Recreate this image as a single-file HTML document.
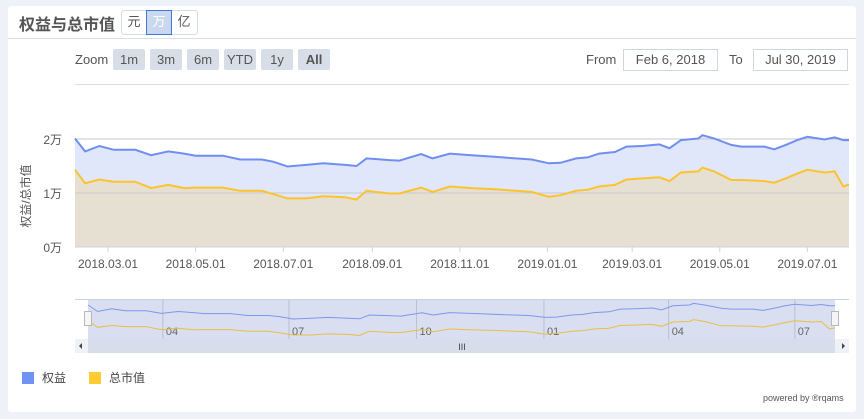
<!DOCTYPE html>
<html><head><meta charset="utf-8">
<style>
body{margin:0;width:864px;height:419px;background:#eef1f8;font-family:"Liberation Sans","Noto Sans CJK SC",sans-serif;position:relative;overflow:hidden}
.card{position:absolute;left:8px;top:6px;width:848px;height:406px;background:#fff;border-radius:3px}
.abs{position:absolute}
.btn{position:absolute;top:49px;height:21px;background:#d8dee8;border-radius:2px;font-size:13px;color:#555;text-align:center;line-height:21px}
.inp{position:absolute;top:49px;height:20px;border:1px solid #cfd6e2;font-size:13px;color:#555;text-align:center;line-height:20px}
</style></head><body>
<div class="card"></div>
<div class="abs" style="left:19px;top:11px;font-size:16px;font-weight:bold;color:#555">权益与总市值</div>
<div class="abs" style="left:121px;top:10px;width:75px;height:23px;border:1px solid #d4dbe6;border-radius:3px"></div>
<div class="abs" style="left:122px;top:11px;width:24px;height:23px;font-size:13px;color:#555;text-align:center;line-height:22px">元</div>
<div class="abs" style="left:146px;top:10px;width:24px;height:23px;font-size:13px;color:#fff;background:#c9d8ee;border:1px solid #3f78d8;text-align:center;line-height:22px">万</div>
<div class="abs" style="left:172px;top:11px;width:24px;height:23px;font-size:13px;color:#555;text-align:center;line-height:22px">亿</div>
<div class="abs" style="left:8px;top:38px;width:848px;height:1px;background:#d9dee8"></div>
<div class="abs" style="left:75px;top:52px;font-size:13px;color:#555">Zoom</div>
<div class="btn" style="left:113px;width:32px">1m</div>
<div class="btn" style="left:150px;width:32px">3m</div>
<div class="btn" style="left:187px;width:32px">6m</div>
<div class="btn" style="left:224px;width:32px">YTD</div>
<div class="btn" style="left:261px;width:32px">1y</div>
<div class="btn" style="left:298px;width:32px;font-weight:bold">All</div>
<div class="abs" style="left:586px;top:52px;font-size:13px;color:#555">From</div>
<div class="inp" style="left:623px;width:93px">Feb 6, 2018</div>
<div class="abs" style="left:729px;top:52px;font-size:13px;color:#555">To</div>
<div class="inp" style="left:753px;width:93px">Jul 30, 2019</div>
<div class="abs" style="left:75px;top:84px;width:774px;height:1px;background:#d9dee8"></div>

<svg id="chart" class="abs" style="left:0;top:0" width="864" height="419"></svg>

<div class="abs" style="left:22px;top:369px;font-size:12px;color:#444"><span style="display:inline-block;width:12px;height:12px;background:#6f93f2;vertical-align:-2px;margin-right:8px"></span>权益</div>
<div class="abs" style="left:89px;top:369px;font-size:12px;color:#444"><span style="display:inline-block;width:12px;height:12px;background:#ffcc33;vertical-align:-2px;margin-right:8px"></span>总市值</div>
<div class="abs" style="left:763px;top:393px;font-size:9px;color:#555">powered by ®rqams</div>

<script>
const days=[0,7,17,27,42,53,65,76,84,103,115,130,138,148,161,173,188,196,203,219,226,241,249,261,276,292,307,318,330,338,349,357,365,376,384,395,407,414,422,434,437,445,457,464,480,487,495,503,510,522,529,535,539];
const equity=[2.01,1.77,1.87,1.80,1.80,1.70,1.77,1.73,1.69,1.69,1.62,1.62,1.58,1.49,1.52,1.55,1.52,1.50,1.64,1.61,1.60,1.72,1.64,1.73,1.70,1.67,1.64,1.62,1.55,1.56,1.64,1.66,1.73,1.76,1.86,1.87,1.90,1.83,1.98,2.01,2.07,2.01,1.89,1.86,1.86,1.81,1.89,1.98,2.04,1.99,2.03,1.98,1.98];
const marketValue=[1.43,1.18,1.25,1.21,1.21,1.09,1.15,1.09,1.10,1.10,1.04,1.04,0.98,0.90,0.90,0.94,0.92,0.88,1.04,0.99,0.99,1.10,1.02,1.12,1.09,1.07,1.04,1.02,0.93,0.96,1.04,1.06,1.12,1.15,1.25,1.27,1.29,1.22,1.38,1.40,1.47,1.40,1.24,1.24,1.22,1.19,1.27,1.36,1.43,1.38,1.40,1.12,1.16];
const yTicks=[0,1,2];
const yTickLabels=["0万","1万","2万"];
const xTicks=["2018-03-01","2018-05-01","2018-07-01","2018-09-01","2018-11-01","2019-01-01","2019-03-01","2019-05-01","2019-07-01"];
const navTicks=["2018-04-01","2018-07-01","2018-10-01","2019-01-01","2019-04-01","2019-07-01"];
const startDate=Date.UTC(2018,1,6), totalDays=539;

const NS="http://www.w3.org/2000/svg";
const svg=document.getElementById('chart');
function mk(t,a,parent){const e=document.createElementNS(NS,t);for(const k in a)e.setAttribute(k,a[k]);(parent||svg).appendChild(e);return e;}
function dayOf(s){const p=s.split('-');return (Date.UTC(+p[0],+p[1]-1,+p[2])-startDate)/864e5;}
const X0=75,X1=849;
const x=d=>X0+d/totalDays*(X1-X0);
const y=v=>247-v*54;
const nx=d=>88+d/totalDays*(835-88);
const ny=v=>305+(2.01-v)*27;

// main plot
let e;
e=mk('rect',{x:X0,y:135,width:X1-X0,height:112,fill:'#fff'});

function area(vals,fx,fy,base){let d='M'+fx(days[0])+','+base;days.forEach((dd,i)=>d+='L'+fx(dd).toFixed(1)+','+fy(vals[i]).toFixed(1));return d+'L'+fx(days[days.length-1])+','+base+'Z';}
function line(vals,fx,fy){return days.map((dd,i)=>(i?'L':'M')+fx(dd).toFixed(1)+','+fy(vals[i]).toFixed(1)).join('');}
e=mk('path',{d:area(equity,x,y,247),fill:'#e1e7fa'});

e=mk('path',{d:area(marketValue,x,y,247),fill:'#e6e0d2'});

yTicks.forEach((t,i)=>{
  e=mk('line',{x1:X0,x2:X1,y1:y(t),y2:y(t),stroke:i==0?'#ccd3df':'#c8c8d0','stroke-width':1});
  
  e=mk('text',{x:62,y:y(t)+5,'text-anchor':'end','font-size':12,fill:'#555'});e.textContent=yTickLabels[i];
  
});
e=mk('path',{d:line(equity,x,y),fill:'none',stroke:'#6f8ff0','stroke-width':2});

e=mk('path',{d:line(marketValue,x,y),fill:'none',stroke:'#fcc32f','stroke-width':2});

e=mk('text',{x:0,y:0,transform:'translate(30,196) rotate(-90)','text-anchor':'middle','font-size':12,fill:'#555'});e.textContent='权益/总市值';

xTicks.forEach(s=>{
  const px=x(dayOf(s));
  e=mk('line',{x1:px,x2:px,y1:247,y2:252,stroke:'#ccd3df'});
  
  e=mk('text',{x:px,y:268,'text-anchor':'middle','font-size':12,fill:'#555'});e.textContent=s.replace(/-/g,'.');
  
});

// navigator
e=mk('line',{x1:75,x2:849,y1:299.5,y2:299.5,stroke:'#ccd3df'});

e=mk('rect',{x:88,y:300,width:747,height:39,fill:'#d9dff0'});

navTicks.forEach(s=>{
  const px=nx(dayOf(s));
  e=mk('line',{x1:px,x2:px,y1:300,y2:339,stroke:'#b8c0d0'});
  
  e=mk('text',{x:px+3,y:335,'font-size':11,fill:'#666'});e.textContent=s.slice(5,7);
  
});
e=mk('path',{d:line(equity,nx,ny),fill:'none',stroke:'#7b98ee','stroke-width':1});

e=mk('path',{d:line(marketValue,nx,ny),fill:'none',stroke:'#e9bd46','stroke-width':1});

[88,835].forEach(hx=>{
  e=mk('rect',{x:hx-3.5,y:311.5,width:7,height:14,fill:'#f5f5f5',stroke:'#b8b8b8'});
  
});
e=mk('rect',{x:75,y:339,width:774,height:14,fill:'#eef1f6'});

e=mk('rect',{x:88,y:339,width:747,height:14,fill:'#d7ddea'});

e=mk('text',{x:462,y:350,'text-anchor':'middle','font-size':9,fill:'#444'});e.textContent='III';

e=mk('path',{d:'M79,346 L82,343 L82,349Z',fill:'#444'});

e=mk('path',{d:'M845,346 L842,343 L842,349Z',fill:'#444'});

</script>
</body></html>
